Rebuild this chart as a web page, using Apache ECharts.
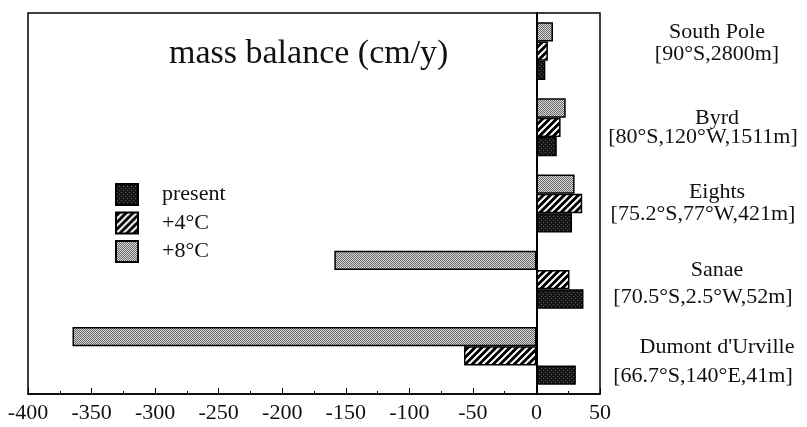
<!DOCTYPE html>
<html>
<head>
<meta charset="utf-8">
<script src="https://cdn.jsdelivr.net/npm/echarts@6/dist/echarts.min.js"></script>
<style>html,body{margin:0;padding:0;background:#fff;}#c{width:807px;height:427px;}</style>
</head>
<body>
<div id="c"></div>
<script>
// ---- data ----
var stations = ['South Pole', 'Byrd', 'Eights', 'Sanae', "Dumont d'Urville"];
var coords = ['[90°S,2800m]', '[80°S,120°W,1511m]', '[75.2°S,77°W,421m]', '[70.5°S,2.5°W,52m]', '[66.7°S,140°E,41m]'];
var seriesNames = ['present', '+4°C', '+8°C'];
var present = [7, 16, 28, 37, 31];
var plus4 = [9, 19, 36, 26, -57];
var plus8 = [13, 23, 30, -159, -365];
var xTicks = { min: -400, max: 50, interval: 50 };
var titleText = 'mass balance (cm/y)';

// ---- label line layout (style only) ----
var line1H = [6, 19, 22, 36, 41];
var line2H = [38, 18, 22, 19, 18];
var line1Pad = [28, 28, 28, 28, 28];
var line2Pad = [28, 0, 0, 0, 0];

// ---- fill patterns ----
function tile(w, h, draw) {
  var c = document.createElement('canvas');
  c.width = w; c.height = h;
  draw(c.getContext('2d'));
  return { image: c, repeat: 'repeat' };
}
var darkFill = tile(4, 4, function (g) {
  g.fillStyle = '#151515'; g.fillRect(0, 0, 4, 4);
  g.fillStyle = '#5a5a5a'; g.fillRect(1, 0, 1, 1); g.fillRect(3, 2, 1, 1);
});
var hatchFill = tile(7, 7, function (g) {
  g.fillStyle = '#000'; g.fillRect(0, 0, 7, 7);
  g.strokeStyle = '#fff'; g.lineWidth = 2;
  g.beginPath();
  g.moveTo(-1, 8); g.lineTo(8, -1);
  g.moveTo(-8, 8); g.lineTo(1, -1);
  g.moveTo(6, 8); g.lineTo(15, -1);
  g.stroke();
});
var grayFill = tile(2, 2, function (g) {
  g.fillStyle = '#d8d8d8'; g.fillRect(0, 0, 2, 2);
  g.fillStyle = '#6a6a6a'; g.fillRect(0, 0, 1, 1); g.fillRect(1, 1, 1, 1);
});
var fills = [darkFill, hatchFill, grayFill];
var values = [present, plus4, plus8];

var serif = '"Liberation Serif", "DejaVu Serif", serif';

var rich = {};
for (var k = 0; k < stations.length; k++) {
  rich['n' + k] = { fontFamily: serif, fontSize: 22, color: '#111', lineHeight: line1H[k], padding: [0, 0, 0, line1Pad[k]] };
  rich['c' + k] = { fontFamily: serif, fontSize: 22, color: '#111', lineHeight: line2H[k], padding: [0, 0, 0, line2Pad[k]] };
}

var chart = echarts.init(document.getElementById('c'), null, { renderer: 'canvas' });
var series = seriesNames.map(function (n, i) {
  return {
    name: n,
    type: 'bar',
    yAxisIndex: 0,
    data: values[i],
    barGap: '0%',
    barCategoryGap: '24%',
    itemStyle: { color: fills[i], borderColor: '#000', borderWidth: 1.5 },
    emphasis: { disabled: true }
  };
});
// order within each group: present bottom, +8°C top
series.reverse();

chart.setOption({
  animation: false,
  title: {
    text: titleText, left: 164, top: 32,
    textStyle: { fontFamily: serif, fontSize: 34, fontWeight: 'normal', color: '#111' }
  },
  legend: {
    orient: 'vertical', left: 115, top: 183, padding: 0,
    icon: 'rect',
    itemWidth: 22, itemHeight: 21, itemGap: 5.5,
    data: seriesNames,
    selectedMode: false,
    textStyle: { fontFamily: serif, fontSize: 22, lineHeight: 21, color: '#111', padding: [0, 0, 0, 19] }
  },
  grid: { left: 28, right: 207, top: 13, bottom: 33, show: true, borderColor: '#000', borderWidth: 1.5, containLabel: false },
  xAxis: {
    type: 'value', min: xTicks.min, max: xTicks.max, interval: xTicks.interval,
    splitLine: { show: false },
    axisLine: { show: true, lineStyle: { color: '#000', width: 1.5 } },
    axisTick: { show: true, inside: true, length: 6, lineStyle: { color: '#000' } },
    minorTick: { show: true, splitNumber: 2, length: 3, lineStyle: { color: '#000' } },
    axisLabel: { fontFamily: serif, fontSize: 22, color: '#111', margin: 8 }
  },
  yAxis: [
    {
      type: 'category', data: stations, inverse: true,
      axisLine: { show: true, onZero: true, lineStyle: { color: '#000', width: 2 } },
      axisTick: { show: false }, axisLabel: { show: false }, splitLine: { show: false }
    },
    {
      type: 'category', data: stations, inverse: true, position: 'right',
      axisLine: { show: false, onZero: false }, axisTick: { show: false }, splitLine: { show: false },
      axisLabel: {
        margin: 103, align: 'center',
        fontFamily: serif, fontSize: 22, color: '#111',
        formatter: function (v, i) {
          return '{n' + i + '|' + v + '}\n{c' + i + '|' + coords[i] + '}';
        },
        rich: rich
      }
    }
  ],
  series: series
});
</script>
</body>
</html>
